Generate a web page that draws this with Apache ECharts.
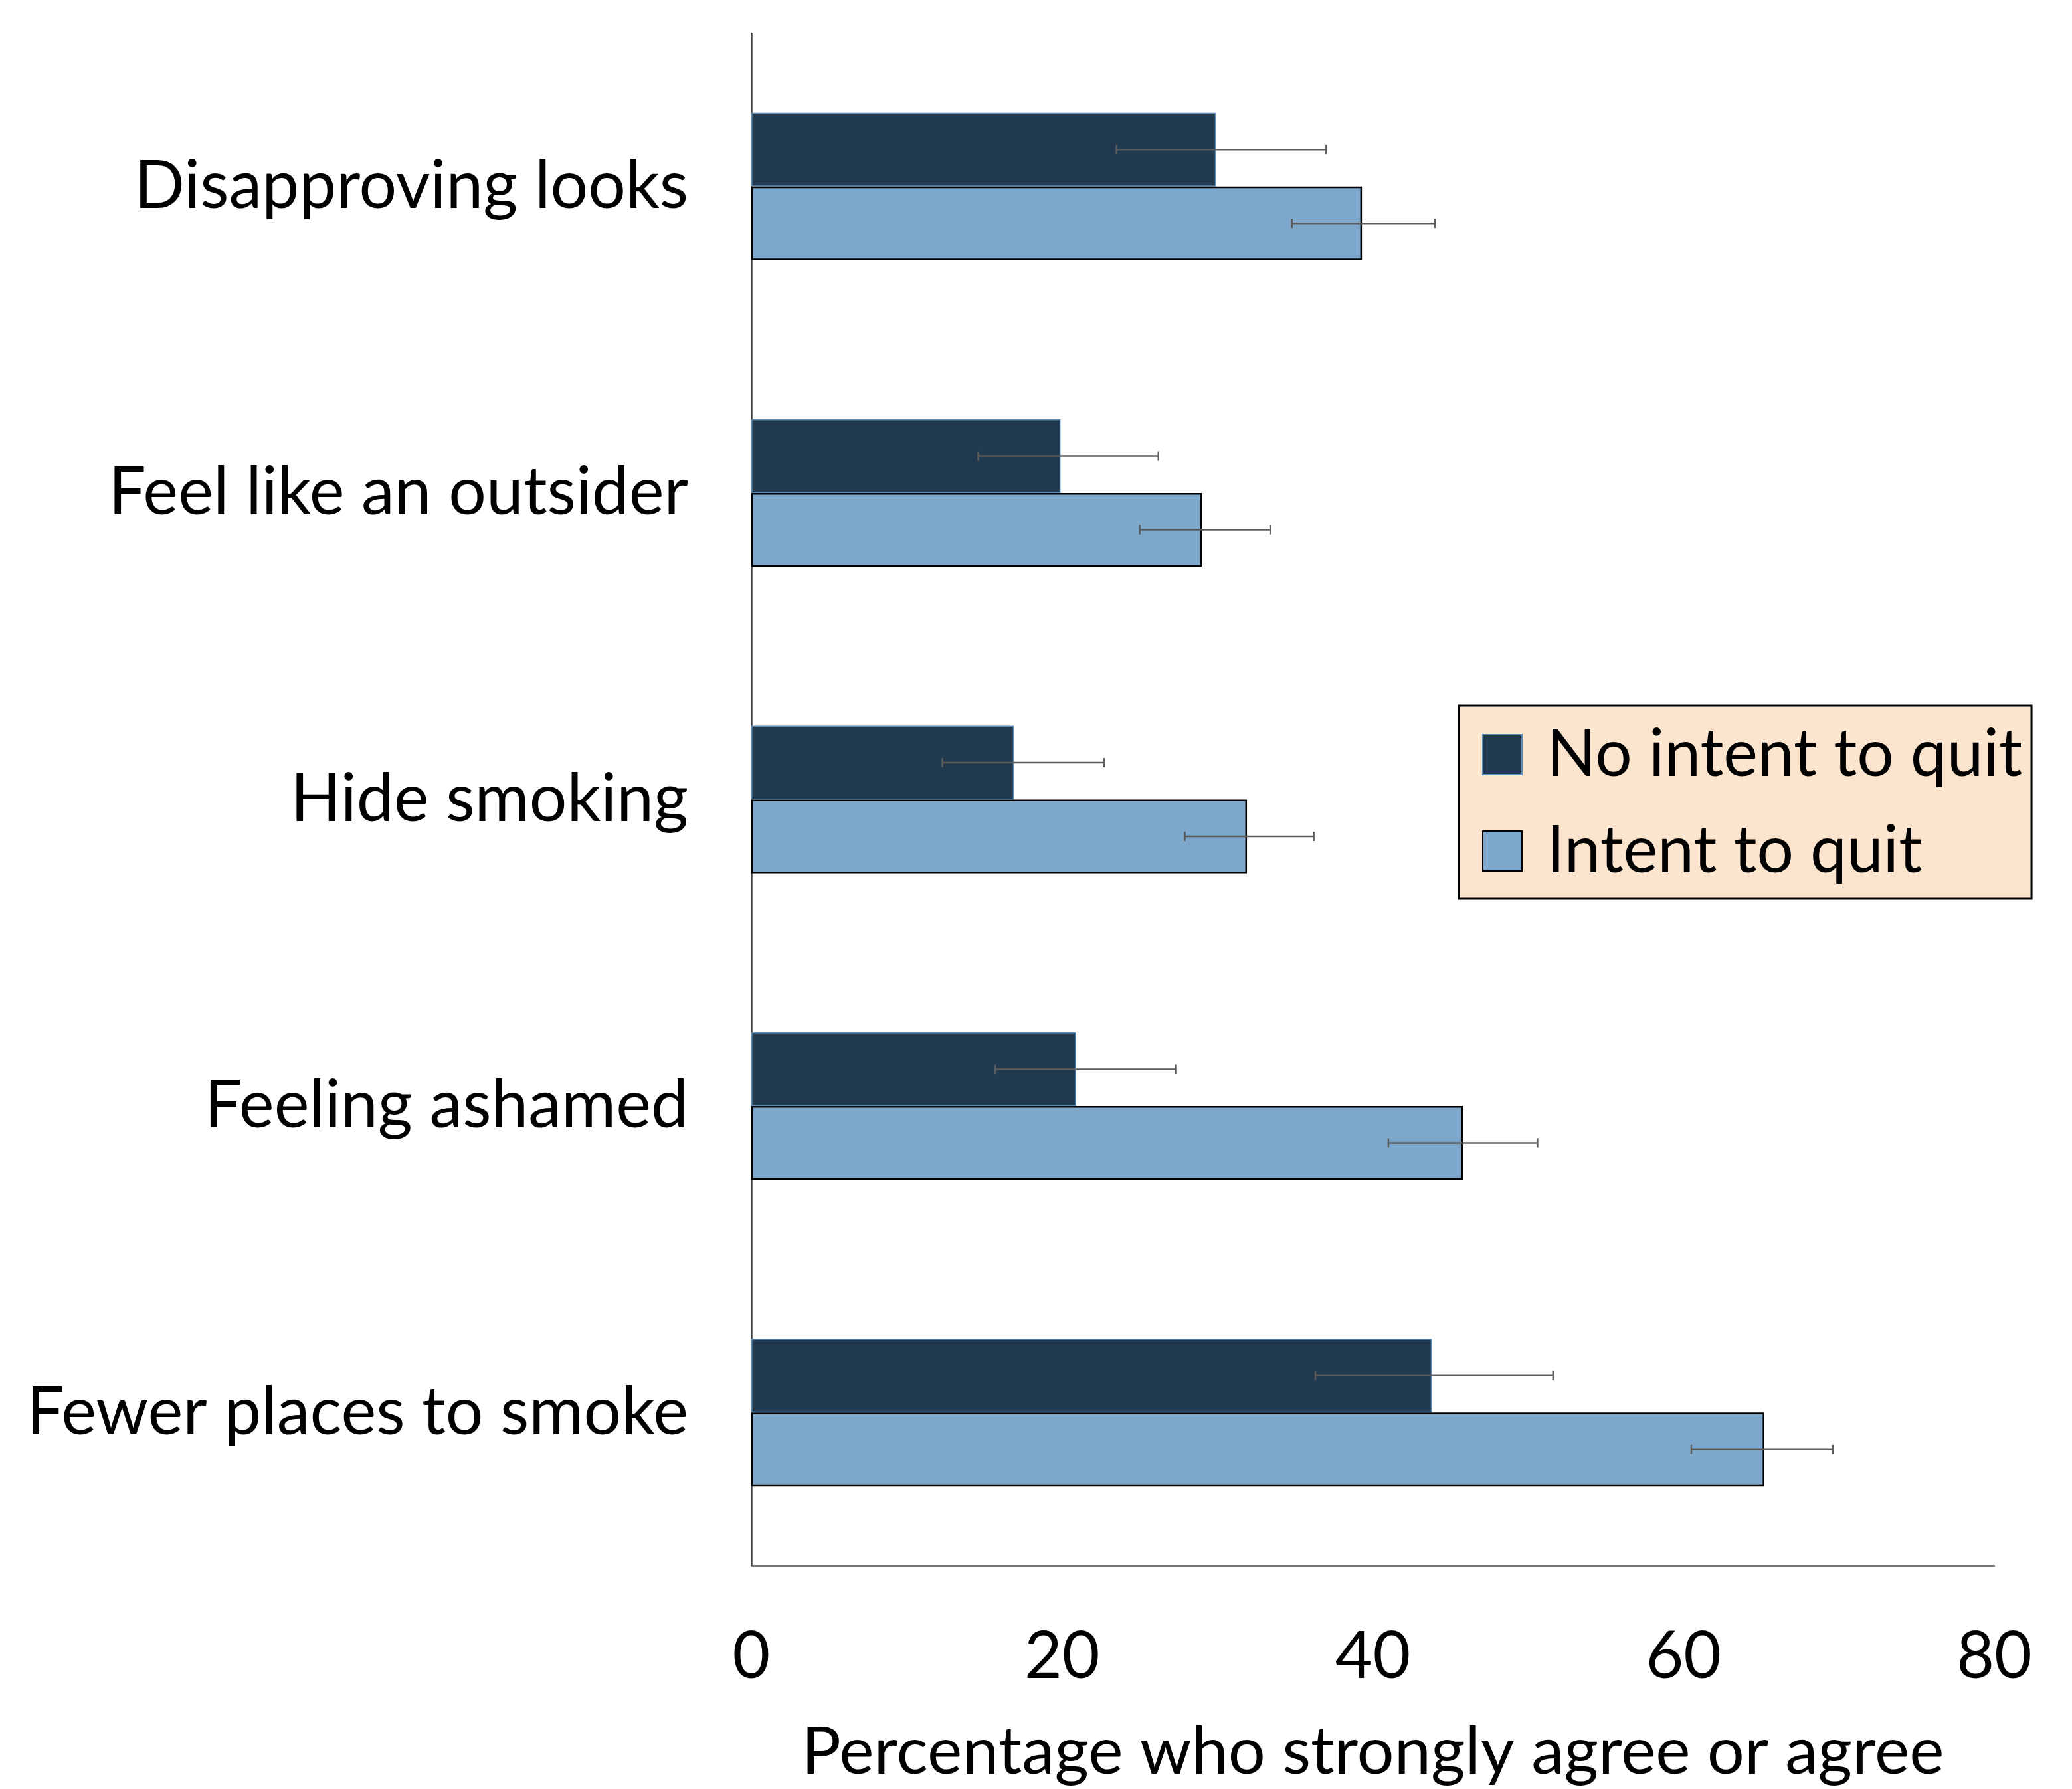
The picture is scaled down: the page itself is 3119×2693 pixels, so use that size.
<!DOCTYPE html>
<html>
<head>
<meta charset="utf-8">
<script src="https://cdn.jsdelivr.net/npm/echarts@6/dist/echarts.min.js"></script>
<style>
html,body{margin:0;padding:0;background:#fff;}
#chart{width:3119px;height:2693px;}
</style>
</head>
<body>
<div id="chart"></div>
<script>
const categories = ['Disapproving looks', 'Feel like an outsider', 'Hide smoking', 'Feeling ashamed', 'Fewer places to smoke'];
const seriesNames = ['No intent to quit', 'Intent to quit'];
const noIntent = [29.9, 19.9, 16.9, 20.9, 43.8];
const noIntentLow = [23.5, 14.6, 12.3, 15.7, 36.3];
const noIntentHigh = [37.0, 26.2, 22.7, 27.3, 51.6];
const intent = [39.3, 29.0, 31.9, 45.8, 65.2];
const intentLow = [34.8, 25.0, 27.9, 41.0, 60.5];
const intentHigh = [44.0, 33.4, 36.2, 50.6, 69.6];
const xTicks = [0, 20, 40, 60, 80];

const FONT = 'Lato';
const FS = 98;
const BAR_W = 111;

function errData(lo, hi) {
  return categories.map((c, i) => [i, lo[i], hi[i]]);
}
function errRender(offset) {
  return function (params, api) {
    const cat = api.value(0);
    const a = api.coord([api.value(1), cat]);
    const b = api.coord([api.value(2), cat]);
    const y = a[1] + offset;
    const cap = 7;
    const st = { stroke: '#5c5c5c', lineWidth: 2.5 };
    return {
      type: 'group',
      children: [
        { type: 'line', shape: { x1: a[0], y1: y, x2: b[0], y2: y }, style: st },
        { type: 'line', shape: { x1: a[0], y1: y - cap, x2: a[0], y2: y + cap }, style: st },
        { type: 'line', shape: { x1: b[0], y1: y - cap, x2: b[0], y2: y + cap }, style: st }
      ]
    };
  };
}

const chart = echarts.init(document.getElementById('chart'));
chart.setOption({
  animation: false,
  backgroundColor: '#ffffff',
  textStyle: { fontFamily: FONT },
  grid: { left: 1131, right: 117, top: 50, bottom: 321, containLabel: false },
  legend: {
    data: seriesNames,
    orient: 'vertical',
    left: 2196,
    top: 1062,
    backgroundColor: '#FBE5CE',
    borderColor: '#000000',
    borderWidth: 3,
    borderRadius: 0,
    padding: [24, 14, 22, 35],
    itemWidth: 59,
    itemHeight: 60,
    itemGap: 45,
    icon: 'rect',
    textStyle: { fontFamily: FONT, fontSize: FS, color: '#000', lineHeight: 100, padding: [0, 0, 0, 32] }
  },
  xAxis: {
    type: 'value',
    min: xTicks[0],
    max: xTicks[xTicks.length - 1],
    interval: 20,
    axisLine: { show: true, lineStyle: { color: '#444', width: 2.5 } },
    axisTick: { show: false },
    splitLine: { show: false },
    axisLabel: { fontFamily: FONT, fontSize: FS, color: '#000', margin: 88 },
    name: 'Percentage who strongly agree or agree',
    nameLocation: 'middle',
    nameGap: 232,
    nameTextStyle: { fontFamily: FONT, fontSize: 99, color: '#000' }
  },
  yAxis: {
    type: 'category',
    data: categories,
    inverse: true,
    axisLine: { show: true, lineStyle: { color: '#444', width: 2.5 } },
    axisTick: { show: false },
    axisLabel: { fontFamily: FONT, fontSize: 100, color: '#000', margin: 95 }
  },
  series: [
    {
      name: seriesNames[0],
      type: 'bar',
      data: noIntent,
      barWidth: BAR_W,
      barGap: '0%',
      itemStyle: { color: '#213A4F', borderColor: '#5B8DB8', borderWidth: 1.5 }
    },
    {
      name: seriesNames[1],
      type: 'bar',
      data: intent,
      barWidth: BAR_W,
      barGap: '0%',
      itemStyle: { color: '#7EA8CB', borderColor: '#000000', borderWidth: 2.5 }
    },
    {
      type: 'custom',
      renderItem: errRender(-BAR_W / 2),
      data: errData(noIntentLow, noIntentHigh),
      encode: { x: [1, 2], y: 0 },
      z: 10,
      silent: true
    },
    {
      type: 'custom',
      renderItem: errRender(BAR_W / 2),
      data: errData(intentLow, intentHigh),
      encode: { x: [1, 2], y: 0 },
      z: 10,
      silent: true
    }
  ]
});
</script>
</body>
</html>
